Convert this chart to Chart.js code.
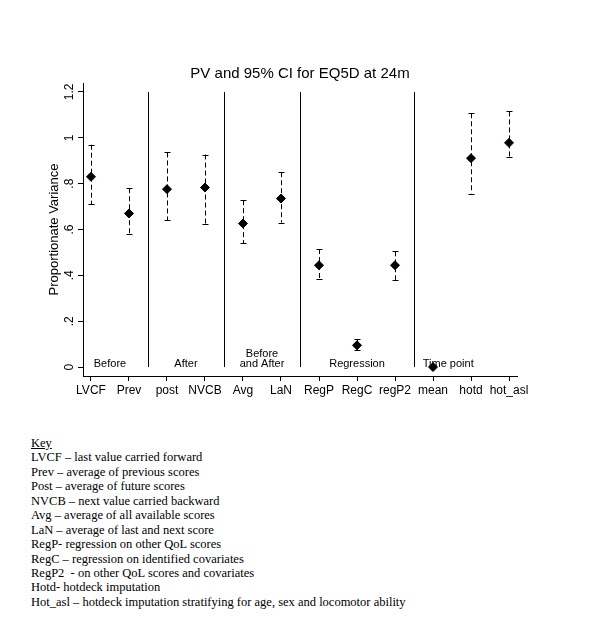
<!DOCTYPE html>
<html>
<head>
<meta charset="utf-8">
<script src="https://cdn.jsdelivr.net/npm/chart.js@4.4.1/dist/chart.umd.min.js"></script>
<style>
  body { margin: 0; background: #fff; }
  #wrap { position: relative; width: 600px; height: 627px; }
  #key {
    position: absolute; left: 31px; top: 436px;
    font-family: "Liberation Serif", "Times New Roman", serif;
    font-size: 12.5px; line-height: 14.43px; color: #000;
    white-space: nowrap;
  }
  #key u { text-decoration: underline; }
</style>
</head>
<body>
<div id="wrap">
  <canvas id="pvChart" width="600" height="410"></canvas>
  <div id="key">
    <u>Key</u><br>
    LVCF &ndash; last value carried forward<br>
    Prev &ndash; average of previous scores<br>
    Post &ndash; average of future scores<br>
    NVCB &ndash; next value carried backward<br>
    Avg &ndash; average of all available scores<br>
    LaN &ndash; average of last and next score<br>
    RegP- regression on other QoL scores<br>
    RegC &ndash; regression on identified covariates<br>
    RegP2 &nbsp;- on other QoL scores and covariates<br>
    Hotd- hotdeck imputation<br>
    Hot_asl &ndash; hotdeck imputation stratifying for age, sex and locomotor ability
  </div>
</div>
<script>
// methods on the x axis
var categories = ["LVCF", "Prev", "post", "NVCB", "Avg", "LaN",
                  "RegP", "RegC", "regP2", "mean", "hotd", "hot_asl"];
// proportionate variance and 95% CI
var pv     = [0.83, 0.67, 0.776, 0.783, 0.626, 0.735, 0.444, 0.095, 0.444, 0.0, 0.911, 0.978];
var ciLow  = [0.71, 0.58, 0.64, 0.626, 0.54, 0.63, 0.384, 0.073, 0.38, null, 0.757, 0.917];
var ciHigh = [0.97, 0.78, 0.936, 0.927, 0.728, 0.85, 0.515, 0.122, 0.505, null, 1.107, 1.115];
var yTicks = [0, 0.2, 0.4, 0.6, 0.8, 1, 1.2];
var yTickLabels = ["0", ".2", ".4", ".6", ".8", "1", "1.2"];

// groups of methods
var separators = [1.5, 3.5, 5.5, 8.5];
var groupNames = [["Before"], ["After"], ["Before", "and After"], ["Regression"], ["Time point"]];
var groupCenters = [0.5, 2.5, 4.5, 7, 9.4];

var chartTitle = "PV and 95% CI for EQ5D at 24m";
var FONT = "'Liberation Sans', Arial, Helvetica, sans-serif";

var points = pv.map(function (v, i) { return { x: i, y: v }; });

var extras = {
  id: "extras",
  beforeDatasetsDraw: function (chart) {
    var ctx = chart.ctx, xs = chart.scales.x, ys = chart.scales.y;
    ctx.save();
    // title, centred on the whole canvas
    ctx.fillStyle = "#000";
    ctx.font = "15px " + FONT;
    ctx.textAlign = "center";
    ctx.textBaseline = "middle";
    ctx.fillText(chartTitle, chart.width / 2, 74);
    // group separators
    ctx.strokeStyle = "#000";
    ctx.lineWidth = 1;
    separators.forEach(function (s) {
      var x = Math.round(xs.getPixelForValue(s)) + 0.5;
      ctx.beginPath();
      ctx.moveTo(x, ys.getPixelForValue(1.2));
      ctx.lineTo(x, ys.getPixelForValue(0));
      ctx.stroke();
    });
    // group labels
    ctx.font = "11px " + FONT;
    ctx.textBaseline = "alphabetic";
    var base = ys.getPixelForValue(0);
    groupNames.forEach(function (lines, g) {
      var x = xs.getPixelForValue(groupCenters[g]);
      lines.forEach(function (t, k) {
        ctx.fillText(t, x, base - (lines.length - 1 - k) * 10.5);
      });
    });
    // confidence intervals
    for (var i = 0; i < pv.length; i++) {
      if (ciLow[i] === null) continue;
      var x = Math.round(xs.getPixelForValue(i)) + 0.5;
      var y1 = ys.getPixelForValue(ciLow[i]);
      var y2 = ys.getPixelForValue(ciHigh[i]);
      ctx.setLineDash([5, 3]);
      ctx.beginPath();
      ctx.moveTo(x, y2);
      ctx.lineTo(x, y1);
      ctx.stroke();
      ctx.setLineDash([]);
      ctx.beginPath();
      ctx.moveTo(x - 3, Math.round(y1) + 0.5);
      ctx.lineTo(x + 3, Math.round(y1) + 0.5);
      ctx.moveTo(x - 3, Math.round(y2) + 0.5);
      ctx.lineTo(x + 3, Math.round(y2) + 0.5);
      ctx.stroke();
    }
    ctx.restore();
  }
};

new Chart(document.getElementById("pvChart"), {
  type: "scatter",
  data: {
    datasets: [{
      data: points,
      pointStyle: "rectRot",
      pointRadius: 4.5,
      pointHoverRadius: 4.5,
      backgroundColor: "#000",
      borderColor: "#000",
      borderWidth: 1
    }]
  },
  options: {
    responsive: false,
    animation: false,
    layout: { padding: { left: 0, right: 83, top: 83, bottom: 0 } },
    plugins: {
      legend: { display: false },
      tooltip: { enabled: false },
      title: { display: false }
    },
    scales: {
      x: {
        type: "linear",
        min: -0.21,
        max: 11.21,
        afterBuildTicks: function (s) {
          s.ticks = categories.map(function (c, i) { return { value: i }; });
        },
        afterFit: function (s) { s.height = 34; },
        grid: { drawOnChartArea: false, drawTicks: true, tickLength: 5, color: "#000" },
        border: { display: true, color: "#000", width: 1 },
        ticks: {
          color: "#000",
          font: { family: FONT, size: 12 },
          padding: 2,
          maxRotation: 0,
          autoSkip: false,
          callback: function (v) { return categories[v]; }
        }
      },
      y: {
        min: -0.039,
        max: 1.239,
        afterBuildTicks: function (s) {
          s.ticks = yTicks.map(function (v) { return { value: v }; });
        },
        afterFit: function (s) { s.width = 83; },
        grid: { drawOnChartArea: false, drawTicks: true, tickLength: 5, color: "#000" },
        border: { display: true, color: "#000", width: 1 },
        ticks: {
          color: "#000",
          font: { family: FONT, size: 12 },
          minRotation: 90,
          maxRotation: 90,
          crossAlign: "center",
          padding: 0,
          callback: function (v) {
            var i = yTicks.indexOf(v);
            return i >= 0 ? yTickLabels[i] : "";
          }
        },
        title: {
          display: true,
          text: "Proportionate Variance",
          color: "#000",
          font: { family: FONT, size: 13 },
          padding: { top: 47, bottom: 0 }
        }
      }
    }
  },
  plugins: [extras]
});
</script>
</body>
</html>
